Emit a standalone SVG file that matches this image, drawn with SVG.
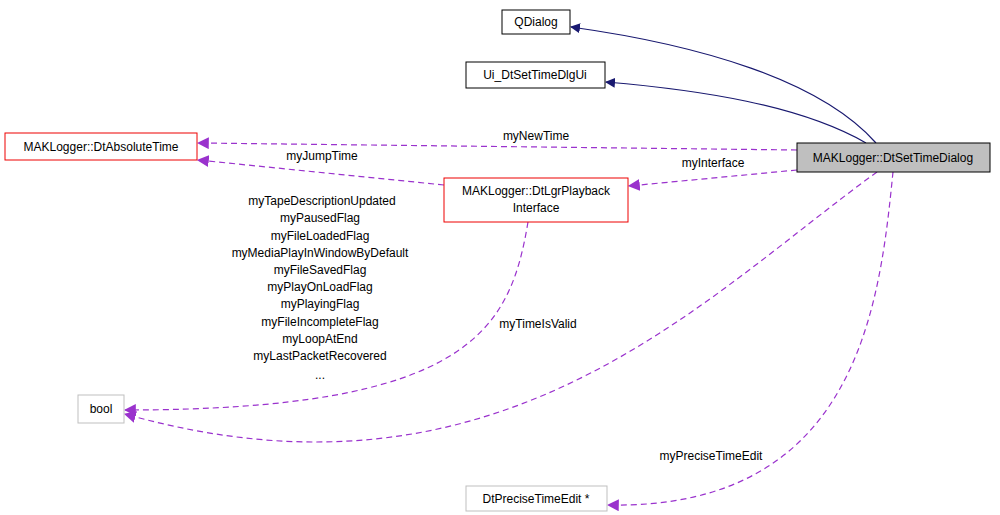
<svg xmlns="http://www.w3.org/2000/svg" width="1000" height="515" viewBox="0 0 1000 515">
<style>
text{font-family:"Liberation Sans",Arial,sans-serif;font-size:12px;fill:#000;text-anchor:middle}
.n rect{stroke-width:1}
.b{fill:#fff;stroke:#000}
.r{fill:#fff;stroke:#e00}
.g{fill:#fff;stroke:#bfbfbf}
.c{fill:#bfbfbf;stroke:#000}
.inh{fill:none;stroke:#191970;stroke-width:1.2}
.use{fill:none;stroke:#9a32cd;stroke-width:1.2;stroke-dasharray:6,4}
</style>
<defs>
<marker id="an" viewBox="0 0 10 10" refX="9" refY="5" markerWidth="10" markerHeight="10" markerUnits="userSpaceOnUse" orient="auto"><path d="M0,0L10,5L0,10z" fill="#191970"/></marker>
<marker id="ap" viewBox="0 0 10 10" refX="9" refY="5" markerWidth="12" markerHeight="12" markerUnits="userSpaceOnUse" orient="auto"><path d="M0,0L10,5L0,10z" fill="#9a32cd"/></marker>
</defs>
<g id="edges">
<path class="inh" d="M876,143C820,80 700,45 571,27" marker-end="url(#an)"/>
<path class="inh" d="M866,143C800,105 700,90 606,82" marker-end="url(#an)"/>
<path class="use" d="M797,150L198,143" marker-end="url(#ap)"/>
<path class="use" d="M444,185L198,160" marker-end="url(#ap)"/>
<path class="use" d="M797,170L629,186" marker-end="url(#ap)"/>
<path class="use" d="M528,222C510,330 470,410 125,410" marker-end="url(#ap)"/>
<path class="use" d="M877,172C700,300 500,520 125,414" marker-end="url(#ap)"/>
<path class="use" d="M893,172C880,300 860,510 608,505" marker-end="url(#ap)"/>
<text x="536" y="140">myNewTime</text>
<text x="322" y="160">myJumpTime</text>
<text x="713" y="167">myInterface</text>
<text x="538" y="328">myTimeIsValid</text>
<text x="711" y="460">myPreciseTimeEdit</text>
<text x="322" y="205">myTapeDescriptionUpdated</text>
<text x="320" y="222">myPausedFlag</text>
<text x="320" y="240">myFileLoadedFlag</text>
<text x="320" y="257">myMediaPlayInWindowByDefault</text>
<text x="320" y="274">myFileSavedFlag</text>
<text x="320" y="291">myPlayOnLoadFlag</text>
<text x="320" y="308">myPlayingFlag</text>
<text x="320" y="326">myFileIncompleteFlag</text>
<text x="320" y="343">myLoopAtEnd</text>
<text x="320" y="360">myLastPacketRecovered</text>
<text x="320" y="379">...</text>
</g>
<g id="QDialog" class="n"><rect class="b" x="502" y="10" width="68" height="24"/><text x="536" y="26">QDialog</text></g>
<g id="Ui" class="n"><rect class="b" x="466" y="62" width="139" height="26"/><text x="535" y="79">Ui_DtSetTimeDlgUi</text></g>
<g id="AbsTime" class="n"><rect class="r" x="5" y="133" width="192" height="27"/><text x="101" y="151">MAKLogger::DtAbsoluteTime</text></g>
<g id="SetTime" class="n"><rect class="c" x="797" y="143" width="193" height="29"/><text x="893" y="162">MAKLogger::DtSetTimeDialog</text></g>
<g id="Playback" class="n"><rect class="r" x="444" y="178" width="184" height="44"/><text x="536" y="195">MAKLogger::DtLgrPlayback</text><text x="536" y="212">Interface</text></g>
<g id="bool" class="n"><rect class="g" x="78" y="395" width="46" height="28"/><text x="101" y="413">bool</text></g>
<g id="Precise" class="n"><rect class="g" x="466" y="486" width="141" height="25"/><text x="536" y="503">DtPreciseTimeEdit *</text></g>
</svg>
